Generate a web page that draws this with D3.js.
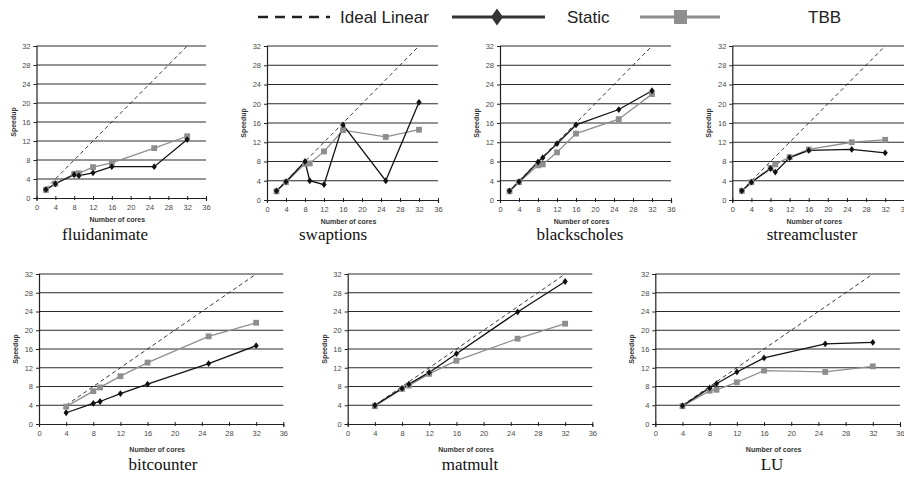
<!DOCTYPE html>
<html><head><meta charset="utf-8">
<script src="https://cdn.jsdelivr.net/npm/d3@7"></script>
<style>html,body{margin:0;padding:0;background:#fff}svg{display:block}</style>
</head><body>
<script>
// ---------- DATA ----------
const coresTop = [2, 4, 8, 9, 12, 16, 25, 32];
const coresBottom = [4, 8, 9, 12, 16, 25, 32];
const xTicks = [0, 4, 8, 12, 16, 20, 24, 28, 32, 36];
const yTicks = [0, 4, 8, 12, 16, 20, 24, 28, 32];
const seriesNames = ["Ideal Linear", "Static", "TBB"];
const benchmarks = ["fluidanimate", "swaptions", "blackscholes", "streamcluster", "bitcounter", "matmult", "LU"];

const fluidanimateStatic = [1.8, 3.0, 4.9, 4.7, 5.3, 6.6, 6.6, 12.3];
const fluidanimateTBB    = [1.7, 3.0, 5.1, 5.2, 6.5, 7.4, 10.5, 13.0];
const swaptionsStatic    = [1.9, 3.8, 8.0, 4.0, 3.2, 15.6, 4.0, 20.3];
const swaptionsTBB       = [1.8, 3.7, 7.5, 7.6, 10.1, 14.5, 13.1, 14.6];
const blackscholesStatic = [1.9, 3.8, 7.9, 8.8, 11.7, 15.6, 18.8, 22.7];
const blackscholesTBB    = [1.8, 3.7, 7.2, 7.4, 9.9, 13.8, 16.8, 22.0];
const streamclusterStatic= [1.9, 3.7, 6.5, 5.8, 8.8, 10.3, 10.5, 9.8];
const streamclusterTBB   = [1.9, 3.7, 6.7, 7.4, 8.9, 10.5, 12.0, 12.5];
const bitcounterStatic   = [2.4, 4.4, 4.8, 6.5, 8.5, 12.9, 16.7];
const bitcounterTBB      = [3.7, 7.0, 7.8, 10.2, 13.1, 18.7, 21.6];
const matmultStatic      = [4.0, 7.6, 8.5, 11.0, 15.0, 23.9, 30.4];
const matmultTBB         = [3.8, 7.5, 8.2, 10.7, 13.5, 18.2, 21.4];
const luStatic           = [3.9, 7.7, 8.6, 11.1, 14.1, 17.1, 17.4];
const luTBB              = [3.8, 7.1, 7.3, 8.9, 11.4, 11.1, 12.3];

const staticSeries = [fluidanimateStatic, swaptionsStatic, blackscholesStatic, streamclusterStatic, bitcounterStatic, matmultStatic, luStatic];
const tbbSeries = [fluidanimateTBB, swaptionsTBB, blackscholesTBB, streamclusterTBB, bitcounterTBB, matmultTBB, luTBB];
const coreSets = [coresTop, coresTop, coresTop, coresTop, coresBottom, coresBottom, coresBottom];

// ---------- LAYOUT ----------
const layout = [
  {x0: 36.5, x1: 206,   y0: 198, y1: 46,  tx: 105, ty: 240},
  {x0: 267,  x1: 438,   y0: 200, y1: 46,  tx: 333, ty: 240},
  {x0: 500,  x1: 671,   y0: 200, y1: 46,  tx: 580, ty: 240},
  {x0: 732.3,x1: 904.3, y0: 200, y1: 46,  tx: 812, ty: 240},
  {x0: 39,   x1: 283.3, y0: 424, y1: 274, tx: 163, ty: 470},
  {x0: 347.7,x1: 592.3, y0: 424, y1: 274, tx: 470, ty: 470},
  {x0: 655.3,x1: 900,   y0: 424, y1: 274, tx: 772, ty: 470}
];

const svg = d3.select("body").append("svg").attr("width", 904).attr("height", 477);
const TBBGRAY = "#8e8e8e";

const diamondPath = (w, h) => `M0,${-h}L${w},0L0,${h}L${-w},0Z`;

benchmarks.forEach((name, i) => {
  const L = layout[i];
  const cores = coreSets[i];
  const x = d3.scaleLinear().domain([0, 36]).range([L.x0, L.x1]);
  const y = d3.scaleLinear().domain([0, 32]).range([L.y0, L.y1]);
  const g = svg.append("g");

  g.selectAll("line.grid").data(yTicks.filter(d => d > 0)).join("line")
    .attr("x1", x(0)).attr("x2", x(36))
    .attr("y1", d => y(d)).attr("y2", d => y(d))
    .attr("stroke", "#2a2a2a").attr("stroke-width", 1);

  const yAxis = d3.axisLeft(y).tickValues(yTicks).tickSize(3).tickPadding(3);
  const xAxis = d3.axisBottom(x).tickValues(xTicks).tickSize(3).tickPadding(4);
  const ya = g.append("g").attr("transform", `translate(${x(0)},0)`).call(yAxis);
  const xa = g.append("g").attr("transform", `translate(0,${y(0)})`).call(xAxis);
  [ya, xa].forEach(a => {
    a.select(".domain").attr("stroke", "#222").attr("stroke-width", 1.2);
    a.selectAll(".tick line").attr("stroke", "#222");
    a.selectAll(".tick text").attr("fill", "#4a4a4a").attr("font-family", "Liberation Sans, Arial, sans-serif").attr("font-size", 7.5);
  });
  xa.selectAll(".tick line").attr("y1", -2).attr("y2", 2);

  g.append("text").attr("transform", `translate(${L.x0 - 21},${(L.y0 + L.y1) / 2}) rotate(-90)`)
    .attr("text-anchor", "middle").attr("font-family", "Liberation Sans, Arial, sans-serif")
    .attr("font-weight", "bold").attr("font-size", 7).attr("fill", "#333").text("Speedup");
  g.append("text").attr("x", (L.x0 + L.x1) / 2 - 4).attr("y", L.y0 + (i < 4 ? 24 : 28))
    .attr("text-anchor", "middle").attr("font-family", "Liberation Sans, Arial, sans-serif")
    .attr("font-weight", "bold").attr("font-size", 7).attr("fill", "#333").text("Number of cores");

  g.append("text").attr("x", L.tx).attr("y", L.ty).attr("text-anchor", "middle")
    .attr("font-family", "Liberation Serif, Times New Roman, serif").attr("font-size", 17)
    .attr("fill", "#111").text(name);

  const ideal = d3.line().x(d => x(d)).y(d => y(d));
  g.append("path").datum([cores[0], cores[cores.length - 1]]).attr("d", ideal)
    .attr("fill", "none").attr("stroke", "#222").attr("stroke-width", 0.9).attr("stroke-dasharray", "4,3");

  const line = d3.line().x(d => x(d[0])).y(d => y(d[1]));
  const tbb = cores.map((c, k) => [c, tbbSeries[i][k]]);
  const st = cores.map((c, k) => [c, staticSeries[i][k]]);

  g.append("path").datum(tbb).attr("d", line).attr("fill", "none").attr("stroke", TBBGRAY).attr("stroke-width", 1.3);
  g.append("path").datum(st).attr("d", line).attr("fill", "none").attr("stroke", "#111").attr("stroke-width", 1.3);

  g.selectAll("path.sq").data(tbb).join("path").attr("class", "sq")
    .attr("transform", d => `translate(${x(d[0])},${y(d[1])})`)
    .attr("d", d3.symbol(d3.symbolSquare, 34)).attr("fill", TBBGRAY);
  g.selectAll("path.dm").data(st).join("path").attr("class", "dm")
    .attr("transform", d => `translate(${x(d[0])},${y(d[1])})`)
    .attr("d", diamondPath(2.6, 3.4)).attr("fill", "#111");
});

// ---------- LEGEND ----------
const lg = svg.append("g").attr("font-family", "Liberation Sans, Arial, sans-serif").attr("font-size", 17).attr("fill", "#222");
const ly = 17;
lg.append("line").attr("x1", 258).attr("x2", 330).attr("y1", ly).attr("y2", ly)
  .attr("stroke", "#222").attr("stroke-width", 2.5).attr("stroke-dasharray", "10,7");
lg.append("text").attr("x", 340).attr("y", ly + 6).text(seriesNames[0]);
lg.append("line").attr("x1", 452).attr("x2", 545).attr("y1", ly).attr("y2", ly).attr("stroke", "#333").attr("stroke-width", 3);
lg.append("path").attr("transform", `translate(497,${ly})`).attr("d", diamondPath(6, 8.5)).attr("fill", "#333");
lg.append("text").attr("x", 567).attr("y", ly + 6).text(seriesNames[1]);
lg.append("line").attr("x1", 640).attr("x2", 720).attr("y1", ly).attr("y2", ly).attr("stroke", TBBGRAY).attr("stroke-width", 3);
lg.append("rect").attr("x", 674).attr("y", ly - 7).attr("width", 13).attr("height", 14).attr("fill", TBBGRAY);
lg.append("text").attr("x", 808).attr("y", ly + 6).text(seriesNames[2]);
</script>
</body></html>
